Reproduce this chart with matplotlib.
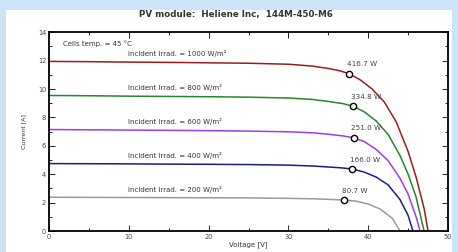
import matplotlib
matplotlib.use("Agg")
import matplotlib.pyplot as plt
from matplotlib.ticker import MultipleLocator

# I-V curves (voltage [V], current [A])
irrad = [1000, 800, 600, 400, 200]
colors = ["#9b1c1c", "#22882a", "#9a3cf0", "#1c1c8c", "#9a9a9a"]

v_1000 = [0, 5, 10, 15, 20, 25, 30, 33, 35, 36.5, 37.6, 39, 40.5, 42, 43.5, 45, 46, 47, 47.5]
i_1000 = [11.95, 11.93, 11.9, 11.88, 11.85, 11.82, 11.75, 11.62, 11.45, 11.28, 11.08, 10.65, 10.0, 9.1, 7.7, 5.6, 3.8, 1.6, 0]
v_800 = [0, 5, 10, 15, 20, 25, 30, 33, 35, 36.8, 38.1, 39.5, 41, 42.5, 44, 45, 46, 47.0]
i_800 = [9.55, 9.53, 9.5, 9.48, 9.46, 9.43, 9.37, 9.27, 9.13, 8.98, 8.79, 8.4, 7.75, 6.8, 5.3, 4.0, 2.4, 0]
v_600 = [0, 5, 10, 15, 20, 25, 30, 33, 35, 36.8, 38.2, 39.5, 41, 42.5, 44, 45, 46, 46.5]
i_600 = [7.15, 7.13, 7.11, 7.09, 7.07, 7.04, 6.99, 6.92, 6.82, 6.7, 6.57, 6.3, 5.75, 4.95, 3.7, 2.6, 1.0, 0]
v_400 = [0, 5, 10, 15, 20, 25, 30, 33, 35, 36.6, 38.0, 39.5, 41, 42.5, 44, 45, 45.6]
i_400 = [4.75, 4.74, 4.73, 4.71, 4.70, 4.68, 4.64, 4.58, 4.51, 4.45, 4.37, 4.15, 3.8, 3.25, 2.2, 1.1, 0]
v_200 = [0, 5, 10, 15, 20, 25, 30, 33, 35, 37.0, 38.5, 40, 41.5, 43, 44.0]
i_200 = [2.38, 2.37, 2.36, 2.35, 2.34, 2.33, 2.30, 2.27, 2.23, 2.18, 2.1, 1.9, 1.55, 0.9, 0]

volts = [v_1000, v_800, v_600, v_400, v_200]
amps = [i_1000, i_800, i_600, i_400, i_200]

# maximum power points
mpp_v = [37.6, 38.1, 38.2, 38.0, 37.0]
mpp_i = [11.08, 8.79, 6.57, 4.37, 2.18]
mpp_p = ["416.7 W", "334.8 W", "251.0 W", "166.0 W", "80.7 W"]

fig = plt.figure(figsize=(4.58, 2.52), dpi=100)
fig.patch.set_facecolor("#cde3f8")

# white panel inside the blue frame
bg = fig.add_axes([6 / 458, 0, 446 / 458, 242 / 252], zorder=0)
bg.set_facecolor("white")
bg.set_xticks([])
bg.set_yticks([])
for s in bg.spines.values():
    s.set_visible(False)

ax = fig.add_axes([49 / 458, 21 / 252, 399 / 458, 198.7 / 252], zorder=1)
ax.set_facecolor("white")

for v, i, c in zip(volts, amps, colors):
    ax.plot(v, i, color=c, lw=1.1, zorder=2)

ax.plot(mpp_v, mpp_i, ls="none", marker="o", ms=4.5, mfc="white", mec="black",
        mew=1.0, zorder=3)

for k in range(len(irrad)):
    ax.text(9.9, amps[k][0] + 0.55, "Incident Irrad. = %d W/m²" % irrad[k],
            fontsize=5.0, color="#333333", va="center", ha="left")
    ax.text(mpp_v[k] - 0.3, mpp_i[k] + 0.45, mpp_p[k], fontsize=5.2,
            color="#444444", va="bottom", ha="left")

ax.text(1.8, 13.2, "Cells temp. = 45 °C", fontsize=5.0, color="#333333",
        va="center", ha="left")

ax.set_xlim(0, 50)
ax.set_ylim(0, 14)
ax.xaxis.set_major_locator(MultipleLocator(10))
ax.xaxis.set_minor_locator(MultipleLocator(5))
ax.yaxis.set_major_locator(MultipleLocator(2))
ax.yaxis.set_minor_locator(MultipleLocator(1))
ax.tick_params(which="both", direction="in", top=True, right=True,
               labelsize=4.8, labelcolor="#444444", width=0.6, pad=2)
ax.tick_params(which="major", length=4)
ax.tick_params(which="minor", length=2)
for s in ax.spines.values():
    s.set_linewidth(1.3)

ax.set_xlabel("Voltage [V]", fontsize=5, color="#333333", labelpad=1)
ax.set_ylabel("Current [A]", fontsize=4.5, color="#333333", labelpad=8)

fig.text(236 / 458, 1 - 14 / 252, "PV module:  Heliene Inc,  144M-450-M6",
         fontsize=6.3, fontweight="bold", color="#333333", ha="center", va="center")

fig.savefig("out.png", dpi=100, facecolor=fig.get_facecolor())
